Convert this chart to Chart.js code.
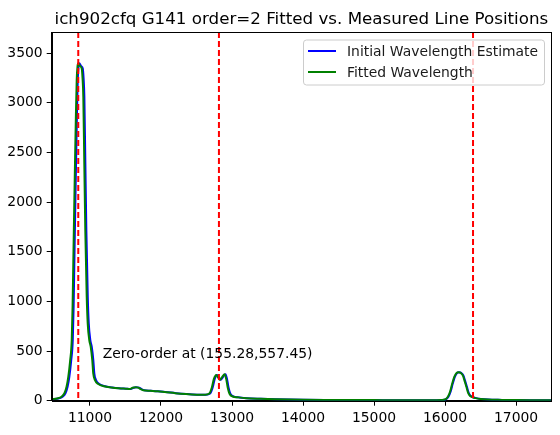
<!DOCTYPE html>
<html>
<head>
<meta charset="utf-8">
<script src="https://cdn.jsdelivr.net/npm/chart.js@4"></script>
<style>
  html, body { margin: 0; padding: 0; background: #fff; }
</style>
</head>
<body>
<canvas id="chart" width="560" height="435"></canvas>
<script>
// spectrum flux, shared by both wavelength solutions
const flux = [14, 22, 40, 75, 140, 242, 400, 611, 950, 1384, 1900, 2390, 2850, 3230, 3370, 3398, 3370, 3347, 3250, 3061,
    2390, 1719, 1047, 779, 611, 544, 410, 276, 208, 168, 145, 134, 126, 121, 118, 130, 136, 132, 118, 105,
    100, 94, 88, 76, 67, 61, 60, 72, 130, 220, 260, 232, 210, 238, 266, 220, 130, 70, 42, 34,
    25, 19, 15, 12, 10, 8, 7, 6, 5, 5, 7, 12, 40, 90, 170, 240, 278, 286, 280, 255,
    200, 140, 80, 50, 35, 26, 17, 11, 8, 6, 5, 5];

const waveInitial = [10476, 10555, 10615, 10655, 10685, 10710, 10735, 10758, 10770, 10780, 10792, 10804, 10816, 10828, 10840, 10850, 10875, 10898, 10910, 10921,
    10935, 10949, 10969, 10983, 11005, 11025, 11047, 11061, 11085, 11132, 11212, 11312, 11412, 11512, 11572, 11612, 11652, 11692, 11722, 11762,
    11862, 11962, 12062, 12212, 12362, 12512, 12632, 12692, 12727, 12757, 12790, 12817, 12842, 12872, 12908, 12930, 12952, 12977, 13022, 13092,
    13208, 13408, 13608, 13808, 14008, 14308, 14608, 15008, 15408, 15808, 15958, 16008, 16048, 16078, 16108, 16138, 16168, 16198, 16228, 16258,
    16283, 16308, 16333, 16358, 16398, 16438, 16508, 16608, 16808, 17008, 17208, 17498];

const waveFitted = [10461, 10540, 10600, 10640, 10670, 10695, 10720, 10743, 10755, 10765, 10777, 10789, 10801, 10813, 10825, 10835, 10860, 10883, 10895, 10906,
    10920, 10934, 10954, 10968, 10990, 11010, 11032, 11046, 11070, 11117, 11200, 11300, 11400, 11500, 11560, 11600, 11640, 11680, 11710, 11750,
    11850, 11950, 12050, 12200, 12350, 12500, 12620, 12680, 12715, 12745, 12778, 12805, 12830, 12860, 12896, 12918, 12940, 12965, 13010, 13080,
    13200, 13400, 13600, 13800, 14000, 14300, 14600, 15000, 15400, 15800, 15950, 16000, 16040, 16070, 16100, 16130, 16160, 16190, 16220, 16250,
    16275, 16300, 16325, 16350, 16390, 16430, 16500, 16600, 16800, 17000, 17200, 17490];

// measured line positions (red dashed)
const linePositions = [10835, 12816, 16394];

const xTicks = [11000, 12000, 13000, 14000, 15000, 16000, 17000];
const yTicks = [0, 500, 1000, 1500, 2000, 2500, 3000, 3500];

const titleText = 'ich902cfq G141 order=2 Fitted vs. Measured Line Positions';
const zeroOrderText = 'Zero-order at (155.28,557.45)';
const zeroOrderPos = [11180, 427];
const seriesNames = ['Initial Wavelength Estimate', 'Fitted Wavelength'];
const seriesColors = ['#0000ff', '#008000'];

const FONT = '"DejaVu Sans", sans-serif';

const toPoints = (w) => w.map((v, i) => ({ x: v, y: flux[i] }));

const extras = {
    id: 'extras',
    afterDatasetsDraw(chart) {
        const { ctx, chartArea: a, scales: { x, y } } = chart;
        ctx.save();
        // red dashed line positions
        ctx.strokeStyle = '#ff0000';
        ctx.lineWidth = 2;
        ctx.setLineDash([6, 3]);
        linePositions.forEach(w => {
            const px = x.getPixelForValue(w);
            ctx.beginPath();
            ctx.moveTo(px, a.top);
            ctx.lineTo(px, a.bottom);
            ctx.stroke();
        });
        ctx.setLineDash([]);

        // annotation
        ctx.fillStyle = '#000';
        ctx.font = '13.9px ' + FONT;
        ctx.textAlign = 'left';
        ctx.textBaseline = 'alphabetic';
        ctx.fillText(zeroOrderText, x.getPixelForValue(zeroOrderPos[0]), y.getPixelForValue(zeroOrderPos[1]));
        ctx.restore();
    },
    afterDraw(chart) {
        const { ctx, chartArea: a } = chart;
        ctx.save();
        // frame
        ctx.strokeStyle = '#000';
        ctx.lineWidth = 1;
        ctx.strokeRect(Math.round(a.left) + 0.5, Math.round(a.top) + 0.5,
            Math.round(a.right) - Math.round(a.left), Math.round(a.bottom) - Math.round(a.top));

        // title
        ctx.fillStyle = '#000';
        ctx.font = '16.7px ' + FONT;
        ctx.textAlign = 'center';
        ctx.textBaseline = 'alphabetic';
        ctx.fillText(titleText, (a.left + a.right) / 2, 24);

        // legend box
        const bx = a.right - 248, by = a.top + 7.5, bw = 241, bh = 45;
        ctx.beginPath();
        ctx.roundRect(bx + 0.5, by + 0.5, bw, bh, 3);
        ctx.fillStyle = 'rgba(255,255,255,0.8)';
        ctx.fill();
        ctx.strokeStyle = '#cccccc';
        ctx.stroke();
        ctx.font = '13.9px ' + FONT;
        ctx.textAlign = 'left';
        ctx.textBaseline = 'middle';
        seriesNames.forEach((name, i) => {
            const ly = by + 11.5 + i * 21;
            ctx.strokeStyle = seriesColors[i];
            ctx.lineWidth = 2;
            ctx.beginPath();
            ctx.moveTo(bx + 5, ly);
            ctx.lineTo(bx + 33, ly);
            ctx.stroke();
            ctx.fillStyle = '#1a1a1a';
            ctx.fillText(name, bx + 44, ly + 1);
        });
        ctx.restore();
    }
};

const axisCommon = {
    grid: { drawOnChartArea: false, drawTicks: true, tickLength: 5, tickColor: '#000', tickWidth: 1 },
    border: { display: true, color: '#000', width: 1 },
    ticks: { color: '#000', font: { family: FONT, size: 13.9 }, padding: 4, autoSkip: false, maxRotation: 0 }
};

new Chart(document.getElementById('chart'), {
    type: 'line',
    data: {
        datasets: [
            { label: seriesNames[0], data: toPoints(waveInitial), borderColor: seriesColors[0], order: 2 },
            { label: seriesNames[1], data: toPoints(waveFitted), borderColor: seriesColors[1], order: 1 }
        ]
    },
    options: {
        responsive: false,
        animation: false,
        layout: { padding: { top: 32, right: 9, left: 0, bottom: 0 } },
        elements: {
            point: { radius: 0 },
            line: { borderWidth: 2, cubicInterpolationMode: 'monotone', fill: false }
        },
        scales: {
            x: {
                ...axisCommon,
                type: 'linear',
                min: 10461,
                max: 17492,
                afterBuildTicks: s => { s.ticks = xTicks.map(v => ({ value: v })); },
                afterFit: s => { s.height = 34.3; },
                ticks: { ...axisCommon.ticks, callback: v => String(v) }
            },
            y: {
                ...axisCommon,
                min: 0,
                max: 3713,
                afterBuildTicks: s => { s.ticks = yTicks.map(v => ({ value: v })); },
                afterFit: s => { s.width = 51.7; },
                ticks: { ...axisCommon.ticks, callback: v => String(v) }
            }
        },
        plugins: { legend: { display: false }, tooltip: { enabled: false }, title: { display: false } }
    },
    plugins: [extras]
});
</script>
</body>
</html>
